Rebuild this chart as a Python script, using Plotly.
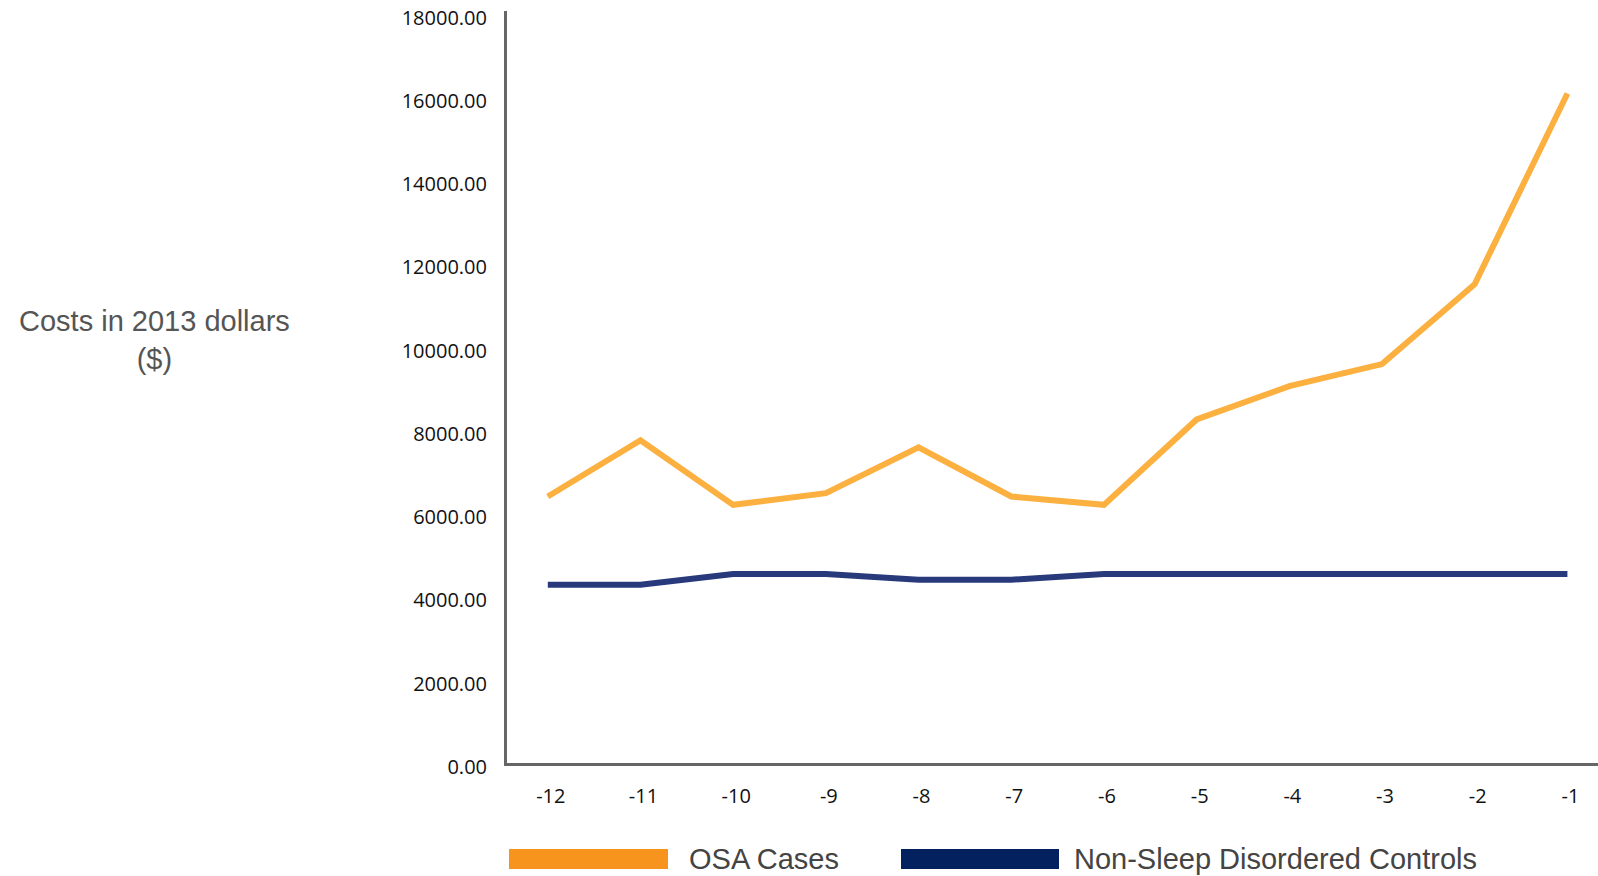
import plotly.graph_objects as go

# Years before diagnosis
years = [-12, -11, -10, -9, -8, -7, -6, -5, -4, -3, -2, -1]
tick_labels = ["-12", "-11", "-10", "-9", "-8", "-7", "-6", "-5", "-4", "-3", "-2", "-1"]

# Annual costs in 2013 dollars
osa_cases = [6400, 7750, 6200, 6480, 7580, 6400, 6200, 8250, 9050, 9580, 11500, 16080]
controls = [4280, 4280, 4540, 4540, 4400, 4400, 4540, 4540, 4540, 4540, 4540, 4540]

series_names = ["OSA Cases", "Non-Sleep Disordered Controls"]
line_colors = ["#FBB040", "#283A7C"]
legend_colors = ["#F7941E", "#03215F"]

y_ticks = [0, 2000, 4000, 6000, 8000, 10000, 12000, 14000, 16000, 18000]

W, H = 1598, 876
ML, MT, MB = 507, 11, 113
plot_w = W - ML
plot_h = H - MT - MB

fig = go.Figure()
for name, vals, col in zip(series_names, [osa_cases, controls], line_colors):
    fig.add_trace(go.Scatter(
        x=years, y=vals, mode="lines", name=name,
        line=dict(color=col, width=6), showlegend=False,
    ))

tick_font = dict(family="Open Sans, Lato, sans-serif", size=20, color="#111111")

fig.update_layout(
    width=W, height=H,
    margin=dict(l=ML, r=0, t=MT, b=MB),
    paper_bgcolor="white", plot_bgcolor="white",
    xaxis=dict(
        range=[-12.44, -0.67], tickmode="array", tickvals=years, ticktext=tick_labels,
        showgrid=False, zeroline=False, showline=True, linecolor="#666666", linewidth=3,
        ticks="", tickfont=tick_font, ticklabelstandoff=13, ticklabelshift=3,
    ),
    yaxis=dict(
        range=[0, 18060], tickmode="array", tickvals=y_ticks,
        ticktext=[f"{v:.2f}" for v in y_ticks],
        showgrid=False, zeroline=False, showline=True, linecolor="#666666", linewidth=3,
        ticks="", tickfont=tick_font, ticklabelstandoff=13, ticklabelshift=4,
    ),
)

def px_x(px):
    return (px - ML) / plot_w

def px_y(py):
    return (H - MB - py) / plot_h

# Axis title on the left
fig.add_annotation(
    text="Costs in 2013 dollars<br>($)", xref="paper", yref="paper",
    x=px_x(154), y=px_y(340), xanchor="center", yanchor="middle", showarrow=False,
    font=dict(family="Liberation Sans, Arial, sans-serif", size=29, color="#555555"),
)

# Legend drawn below the plot with wide swatches
legend_items = [(509, 668, 687), (901, 1059, 1072)]
for (x0, x1, tx), name, col in zip(legend_items, series_names, legend_colors):
    fig.add_shape(
        type="rect", xref="paper", yref="paper",
        x0=px_x(x0), x1=px_x(x1), y0=px_y(869), y1=px_y(849),
        fillcolor=col, line=dict(width=0),
    )
    fig.add_annotation(
        text=name, xref="paper", yref="paper", x=px_x(tx), y=px_y(859),
        xanchor="left", yanchor="middle", showarrow=False,
        font=dict(family="Liberation Sans, Arial, sans-serif", size=29, color="#444444"),
    )

fig.write_html("out.html")
